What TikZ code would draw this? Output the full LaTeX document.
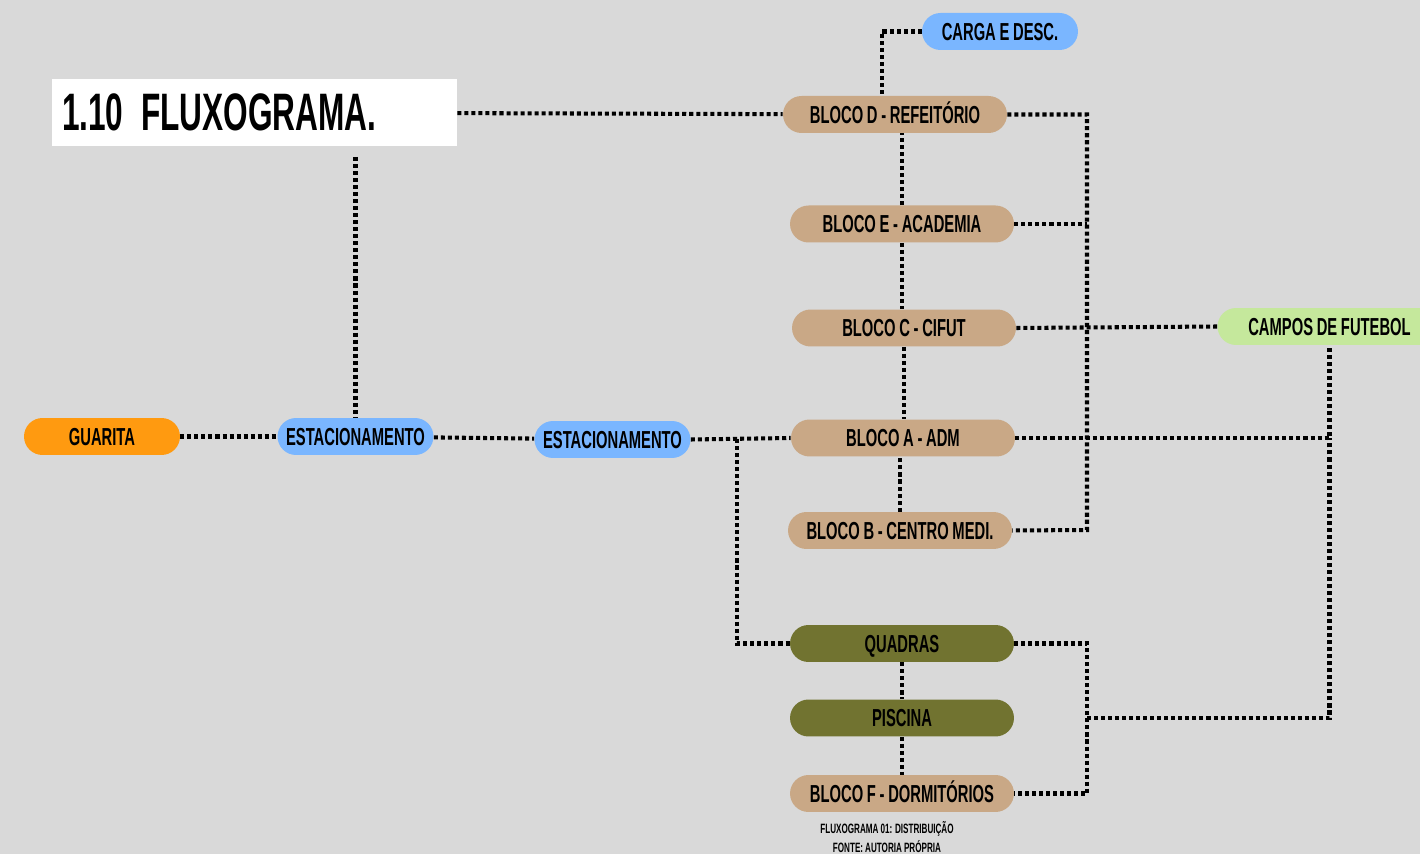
\documentclass[tikz,border=0pt]{standalone}
\usepackage{fontspec}
\newfontfamily\condfont[FakeStretch=0.6, WordSpace=0.9]{Liberation Sans}
\usepackage{xcolor}
\usepackage{tikz}
\usetikzlibrary{
    positioning,
    calc
}
\definecolor{bggray}{HTML}{D9D9D9}
\definecolor{parkblue}{HTML}{7AB6FF}
\definecolor{blocktan}{HTML}{C9A886}
\definecolor{sportolive}{HTML}{717330}
\definecolor{fieldgreen}{HTML}{C5E89C}
\definecolor{gateorange}{HTML}{FF9A10}
\tikzset{
    pill/.style={
        rectangle, fill=#1, rounded corners=0.37cm,
        minimum height=0.74cm, minimum width=4.48cm,
        inner sep=0pt, text=black, text height=10pt, text depth=0pt,
        font=\condfont\bfseries\fontsize{14}{14}\selectfont
    },
    pill small/.style={
        pill=#1, minimum width=3.12cm
    },
    title box/.style={
        rectangle, fill=white, minimum height=1.34cm,
        text width=7.7cm, inner xsep=0.2cm, align=left,
        text height=21pt, text depth=0pt,
        font=\condfont\bfseries\fontsize{30}{30}\selectfont
    },
    caption/.style={
        inner sep=0pt, text height=5.5pt, text depth=0pt,
        font=\condfont\bfseries\fontsize{7.7}{7.7}\selectfont
    },
    link/.style={
        draw=black, line width=2.3pt, dash pattern=on 2.3pt off 1.7pt
    },
}

\begin{document}
\begin{tikzpicture}[x=0.02cm, y=-0.02cm]

    % Background
    \fill[bggray] (0,0) rectangle (1420,854);
    \useasboundingbox (0,0) rectangle (1420,854);

    % Title
    \node[title box] (title) at (254.5,112.5) {1.10 FLUXOGRAMA.};

    % Entrance
    \node[pill small=gateorange] (guarita) at (102,436.5) {GUARITA};
    \node[pill small=parkblue] (estA) at (355.5,436.5) {ESTACIONAMENTO};
    \node[pill small=parkblue] (estB) at (612.5,439.5) {ESTACIONAMENTO};

    % Blocks
    \node[pill small=parkblue] (carga) at (1000,31.5) {CARGA E DESC.};
    \node[pill=blocktan] (blocod) at (895,114.5) {BLOCO D - REFEIT\'ORIO};
    \node[pill=blocktan] (blocoe) at (902,224) {BLOCO E - ACADEMIA};
    \node[pill=blocktan] (blococ) at (904,328) {BLOCO C - CIFUT};
    \node[pill=blocktan] (blocoa) at (903,438) {BLOCO A - ADM};
    \node[pill=blocktan] (blocob) at (900,530.5) {BLOCO B - CENTRO MEDI.};

    % Sports and lodging
    \node[pill=sportolive] (quadras) at (902,643.5) {QUADRAS};
    \node[pill=sportolive] (piscina) at (902,718) {PISCINA};
    \node[pill=blocktan] (blocof) at (902,793.5) {BLOCO F - DORMIT\'ORIOS};
    \node[pill=fieldgreen] (campos) at (1329.5,326.5) {CAMPOS DE FUTEBOL};

    % Caption
    \node[caption] (capone) at (887,829) {FLUXOGRAMA 01: DISTRIBUI\c{C}\~AO};
    \node[caption] (captwo) at (887,848) {FONTE: AUTORIA PR\'OPRIA};

    % Helper points
    \coordinate (titledrop) at (355.5,157);
    \coordinate (split) at (737,439);
    \coordinate (busup) at (1087,530);
    \coordinate (buslow) at (1087,718);

    % Flows
    \draw[link] (title) -- (blocod);
    \draw[link] (titledrop) -- (estA.north);
    \draw[link] (guarita) -- (estA);
    \draw[link] (estA) -- (estB);
    \draw[link] (estB.east) -- (blocoa.west);
    \draw[link] (split) |- (quadras.west);

    % Central column
    \draw[link] (carga.west) -| ([xshift=-0.26cm]blocod.north);
    \draw[link] (blocoe.north) -- (blocoe.north |- blocod.south);
    \draw[link] (blocoe.south) -- (blocoe.south |- blococ.north);
    \draw[link] (blococ.south) -- (blococ.south |- blocoa.north);
    \draw[link] (blocob.north) -- (blocob.north |- blocoa.south);
    \draw[link] (quadras) -- (piscina);
    \draw[link] (piscina) -- (blocof);

    % Right buses
    \draw[link] (blocod.east) -| (busup) -- (blocob.east);
    \draw[link] (blocoe.east) -- (blocoe.east -| busup);
    \draw[link] (blococ.east) -- (campos.west);
    \draw[link] (blocoa.east) -| (campos.south);
    \draw[link] (quadras.east) -| (blocof.east -| buslow) -- (blocof.east);
    \draw[link] (buslow) -| (blocoa.east -| campos.south);

\end{tikzpicture}
\end{document}
